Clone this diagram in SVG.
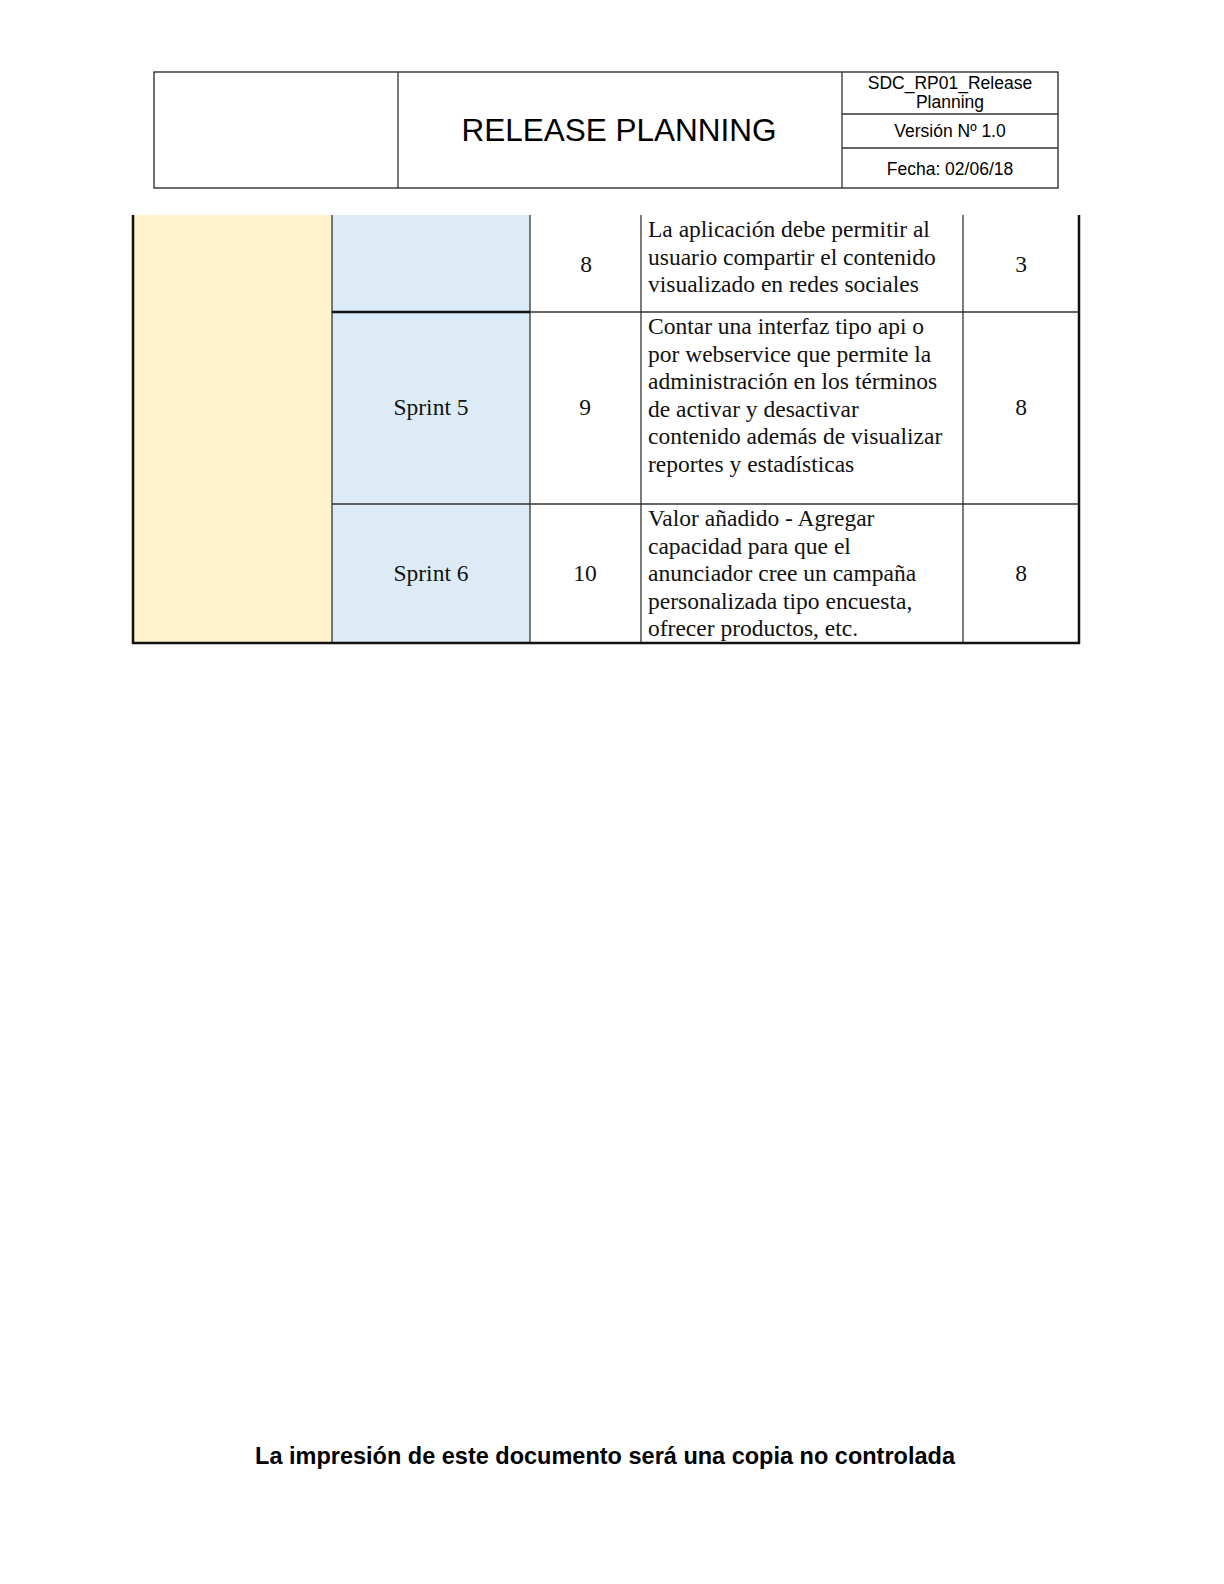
<svg xmlns="http://www.w3.org/2000/svg" width="1224" height="1584" viewBox="0 0 1224 1584">
<style>
.hdr{font-family:"Liberation Sans",Arial,sans-serif;fill:#000;text-anchor:middle}
.cell{font-family:"Liberation Serif","Times New Roman",serif;font-size:23.5px;fill:#111}
.c{text-anchor:middle}
.ln{stroke:#333;stroke-width:1.3;fill:none}
.thk{stroke:#111;stroke-width:2.5;fill:none}
</style>
<rect width="1224" height="1584" fill="#fff"/>
<g id="header">
<rect x="154" y="72" width="904" height="116" fill="none" stroke="#222" stroke-width="1.3"/>
<line class="ln" x1="398" y1="72" x2="398" y2="188"/>
<line class="ln" x1="842" y1="72" x2="842" y2="188"/>
<line class="ln" x1="842" y1="114" x2="1058" y2="114"/>
<line class="ln" x1="842" y1="148" x2="1058" y2="148"/>
<text class="hdr" x="619" y="141" font-size="31.5">RELEASE PLANNING</text>
<text class="hdr" x="950" y="89" font-size="17.5">SDC_RP01_Release</text>
<text class="hdr" x="950" y="108" font-size="17.5">Planning</text>
<text class="hdr" x="950" y="137" font-size="17.5">Versión Nº 1.0</text>
<text class="hdr" x="950" y="175" font-size="17.5">Fecha: 02/06/18</text>
</g>
<g id="table">
<rect x="133" y="215" width="199" height="428" fill="#FFF2CC"/>
<rect x="332" y="215" width="198" height="428" fill="#DDEBF7"/>
<line class="ln" x1="332" y1="215" x2="332" y2="643"/>
<line class="ln" x1="530" y1="215" x2="530" y2="643"/>
<line class="ln" x1="641" y1="215" x2="641" y2="643"/>
<line class="ln" x1="963" y1="215" x2="963" y2="643"/>
<line class="thk" x1="332" y1="312" x2="530" y2="312"/>
<line class="ln" x1="530" y1="312" x2="1079" y2="312"/>
<line class="ln" x1="332" y1="504" x2="1079" y2="504"/>
<line class="thk" x1="133" y1="215" x2="133" y2="644"/>
<line class="thk" x1="1079" y1="215" x2="1079" y2="644"/>
<line class="thk" x1="132" y1="643" x2="1080" y2="643"/>
</g>
<g id="row1">
<text class="cell c" x="586" y="272">8</text>
<text class="cell" x="648" y="237">La aplicación debe permitir al</text>
<text class="cell" x="648" y="265">usuario compartir el contenido</text>
<text class="cell" x="648" y="292">visualizado en redes sociales</text>
<text class="cell c" x="1021" y="272">3</text>
</g>
<g id="row2">
<text class="cell c" x="431" y="415">Sprint 5</text>
<text class="cell c" x="585" y="415">9</text>
<text class="cell" x="648" y="334">Contar una interfaz tipo api o</text>
<text class="cell" x="648" y="362">por webservice que permite la</text>
<text class="cell" x="648" y="389">administración en los términos</text>
<text class="cell" x="648" y="417">de activar y desactivar</text>
<text class="cell" x="648" y="444">contenido además de visualizar</text>
<text class="cell" x="648" y="472">reportes y estadísticas</text>
<text class="cell c" x="1021" y="415">8</text>
</g>
<g id="row3">
<text class="cell c" x="431" y="581">Sprint 6</text>
<text class="cell c" x="585" y="581">10</text>
<text class="cell" x="648" y="526">Valor añadido - Agregar</text>
<text class="cell" x="648" y="554">capacidad para que el</text>
<text class="cell" x="648" y="581">anunciador cree un campaña</text>
<text class="cell" x="648" y="609">personalizada tipo encuesta,</text>
<text class="cell" x="648" y="636">ofrecer productos, etc.</text>
<text class="cell c" x="1021" y="581">8</text>
</g>
<g id="footer">
<text class="hdr" x="605" y="1464" font-size="23.5" font-weight="bold">La impresión de este documento será una copia no controlada</text>
</g>
</svg>
